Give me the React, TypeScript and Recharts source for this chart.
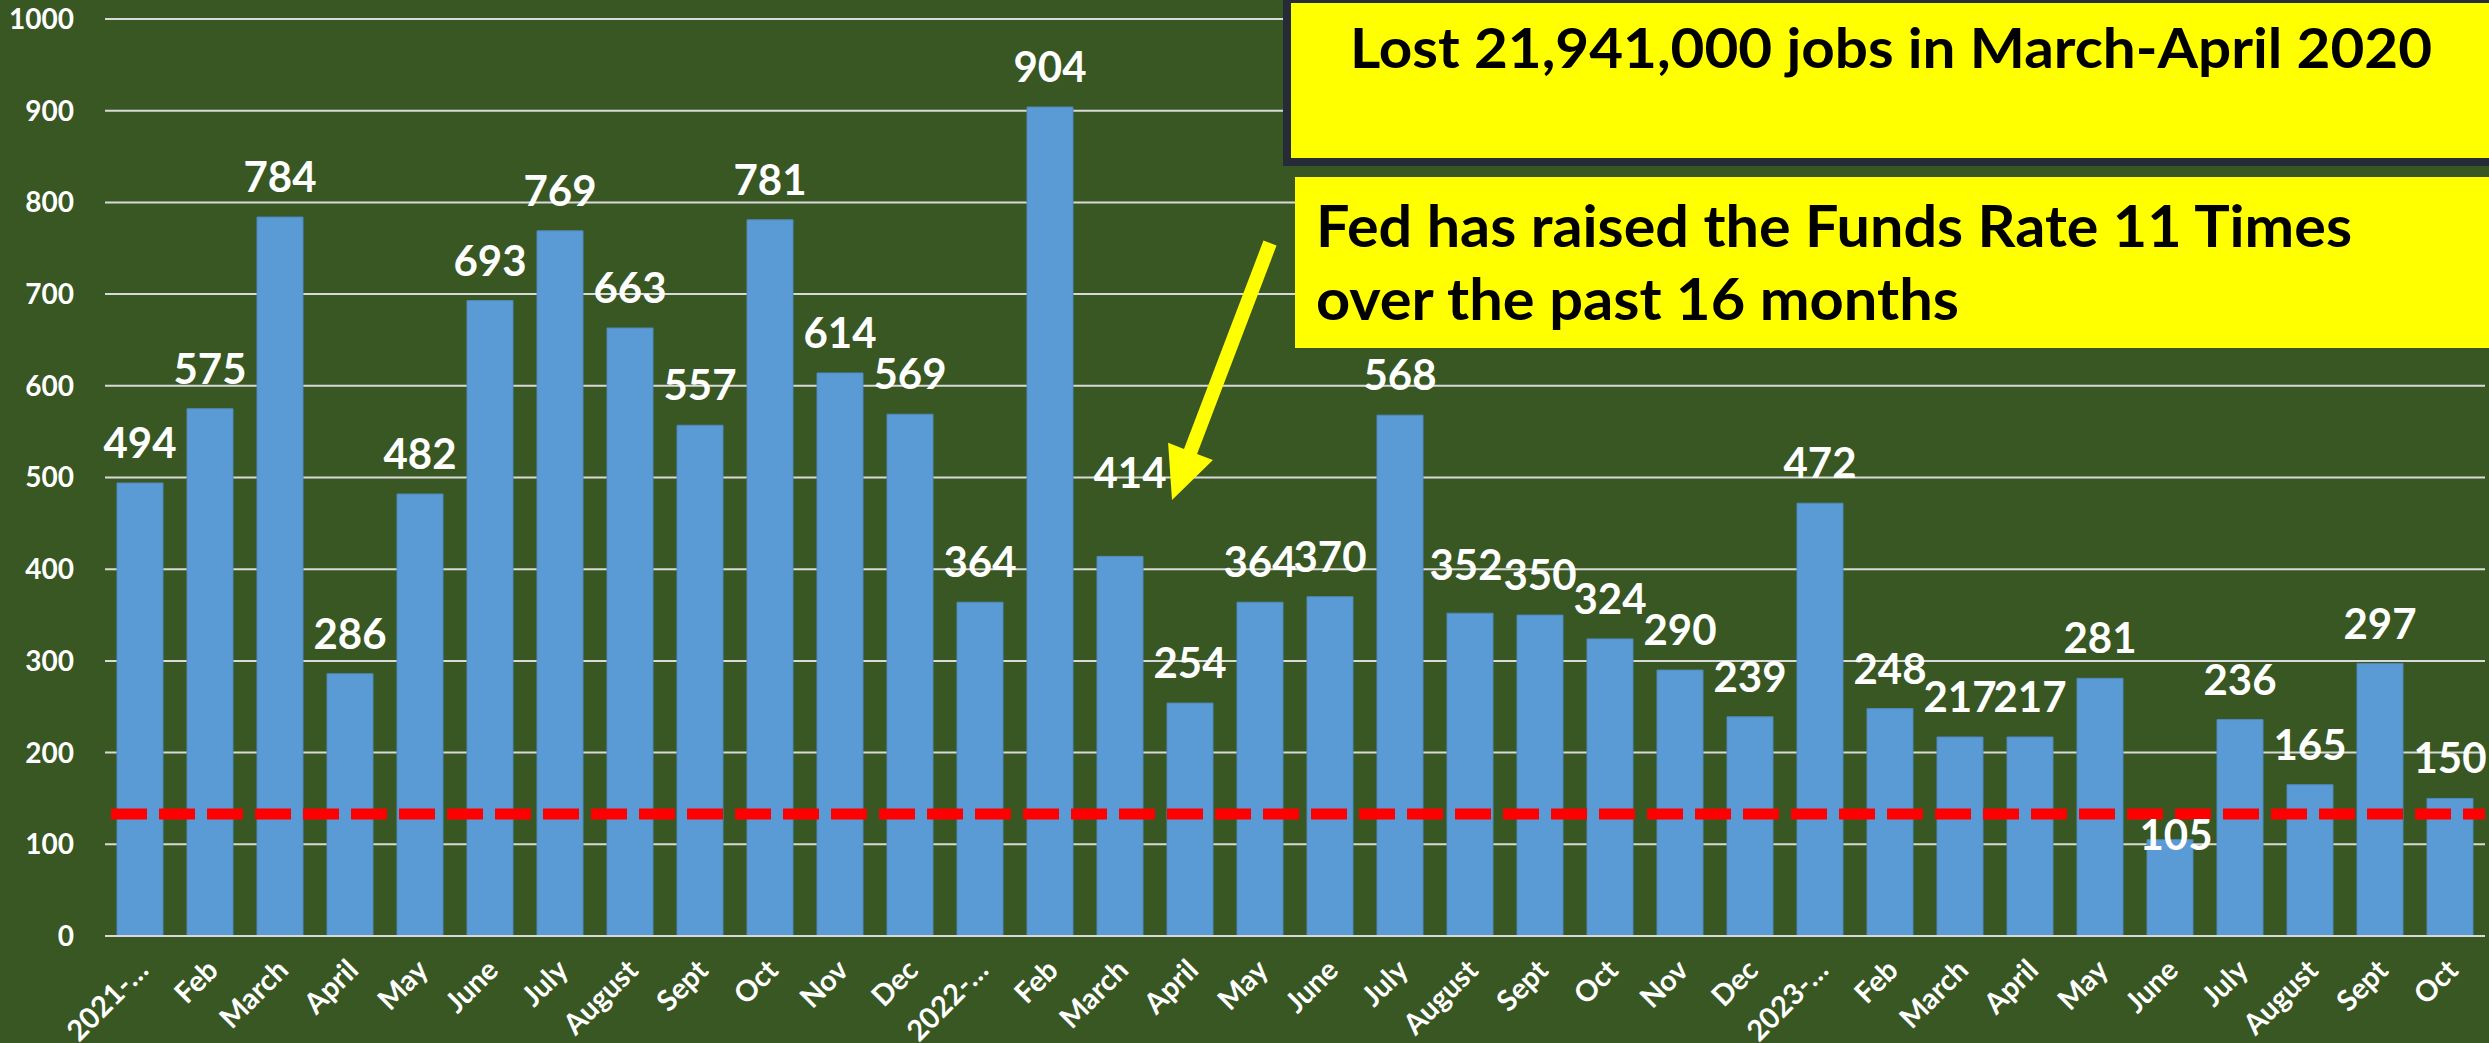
import React from 'react';
import { BarChart, Bar, XAxis, YAxis, CartesianGrid, ReferenceLine, LabelList } from 'recharts';

const months = [
  '2021-…', 'Feb', 'March', 'April', 'May', 'June', 'July', 'August', 'Sept', 'Oct', 'Nov', 'Dec',
  '2022-…', 'Feb', 'March', 'April', 'May', 'June', 'July', 'August', 'Sept', 'Oct', 'Nov', 'Dec',
  '2023-…', 'Feb', 'March', 'April', 'May', 'June', 'July', 'August', 'Sept', 'Oct',
];
const jobs = [
  494, 575, 784, 286, 482, 693, 769, 663, 557, 781, 614, 569,
  364, 904, 414, 254, 364, 370, 568, 352, 350, 324, 290, 239,
  472, 248, 217, 217, 281, 105, 236, 165, 297, 150,
];
const yTicks = [0, 100, 200, 300, 400, 500, 600, 700, 800, 900, 1000];
const thresholdLevel = 133;

const boxTitle = 'Lost 21,941,000 jobs in March-April 2020';
const noteLine1 = 'Fed has raised the Funds Rate 11 Times';
const noteLine2 = 'over the past 16 months';

const data = months.map((m, i) => ({ month: m, jobs: jobs[i] }));

const W = 2489;
const H = 1043;
const FONT = "Lato, 'Open Sans', sans-serif";
const BG = '#385723';

// label placement tweaks (dx, dy) for the hand-moved labels
const labelNudge: Record<number, [number, number]> = { 14: [10, -43], 19: [-4, -8], 29: [6, 35] };

function XTick(props: any) {
  const { x, y, payload } = props;
  const ax = x + 10;
  const ay = y + 36;
  return (
    <text
      x={ax}
      y={ay}
      transform={`rotate(-45 ${ax} ${ay})`}
      textAnchor="end"
      fill="#FFFFFF"
      fontSize={29}
      fontWeight={700}
      fontFamily={FONT}
    >
      {payload.value}
    </text>
  );
}

function BarLabel(props: any) {
  const { x, y, width, value, index } = props;
  const [dx, dy] = labelNudge[index] ?? [0, 0];
  return (
    <text
      x={Number(x) + Number(width) / 2 + dx}
      y={Number(y) - 25 + dy}
      textAnchor="middle"
      fill="#FFFFFF"
      fontSize={42}
      fontWeight={700}
      fontFamily={FONT}
    >
      {value}
    </text>
  );
}

function arrowPoints(tx: number, ty: number, px: number, py: number, shaft: number, headLen: number, headHalf: number) {
  const len = Math.hypot(px - tx, py - ty);
  const dx = (px - tx) / len;
  const dy = (py - ty) / len;
  const nx = -dy;
  const ny = dx;
  const bx = px - dx * headLen;
  const by = py - dy * headLen;
  const pts = [
    [tx - nx * shaft, ty - ny * shaft],
    [tx + nx * shaft, ty + ny * shaft],
    [bx + nx * shaft, by + ny * shaft],
    [bx + nx * headHalf, by + ny * headHalf],
    [px, py],
    [bx - nx * headHalf, by - ny * headHalf],
    [bx - nx * shaft, by - ny * shaft],
  ];
  return pts.map((p) => p.join(',')).join(' ');
}

export default function App() {
  return (
    <div style={{ position: 'absolute', left: 0, top: 0, width: W, height: H, background: BG, overflow: 'hidden' }}>
      <BarChart
        width={W}
        height={H}
        data={data}
        margin={{ top: 19, right: 4, bottom: 0, left: 0 }}
        barSize={46}
      >
        <CartesianGrid vertical={false} stroke="#D9D9D9" strokeWidth={2} />
        <YAxis
          domain={[0, 1000]}
          ticks={yTicks}
          width={105}
          axisLine={false}
          tickLine={false}
          tickSize={0}
          tickMargin={31}
          tick={{ fill: '#FFFFFF', fontSize: 28, fontWeight: 700, fontFamily: FONT }}
        />
        <XAxis
          dataKey="month"
          interval={0}
          height={107}
          tickLine={false}
          tickSize={0}
          tickMargin={0}
          axisLine={{ stroke: '#D9D9D9', strokeWidth: 2 }}
          tick={<XTick />}
        />
        <Bar dataKey="jobs" fill="#5B9BD5" stroke="#4F89BE" strokeWidth={1} isAnimationActive={false}>
          <LabelList dataKey="jobs" content={<BarLabel />} />
        </Bar>
        <ReferenceLine
          y={thresholdLevel}
          stroke="#FF0000"
          strokeWidth={11}
          strokeDasharray="36 12"
          strokeDashoffset={42}
        />
      </BarChart>
      <svg width={W} height={H} style={{ position: 'absolute', left: 0, top: 0, pointerEvents: 'none' }}>
        <rect x={1283} y={-10} width={1300} height={176} fill="#252B37" />
        <rect x={1291} y={3} width={1300} height={155} fill="#FFFF00" />
        <text
          x={1350}
          y={68}
          fontSize={56}
          fontWeight={700}
          fontFamily={FONT}
          fill="#000000"
          textLength={1082}
          lengthAdjust="spacingAndGlyphs"
        >
          {boxTitle}
        </text>
        <rect x={1295} y={177} width={1300} height={171} fill="#FFFF00" />
        <text
          x={1316}
          y={247}
          fontSize={58}
          fontWeight={700}
          fontFamily={FONT}
          fill="#000000"
          textLength={1036}
          lengthAdjust="spacingAndGlyphs"
        >
          {noteLine1}
        </text>
        <text
          x={1316}
          y={320}
          fontSize={58}
          fontWeight={700}
          fontFamily={FONT}
          fill="#000000"
          textLength={643}
          lengthAdjust="spacingAndGlyphs"
        >
          {noteLine2}
        </text>
        <polygon points={arrowPoints(1270, 243, 1172, 500, 7, 52, 24)} fill="#FFFF00" />
      </svg>
    </div>
  );
}
